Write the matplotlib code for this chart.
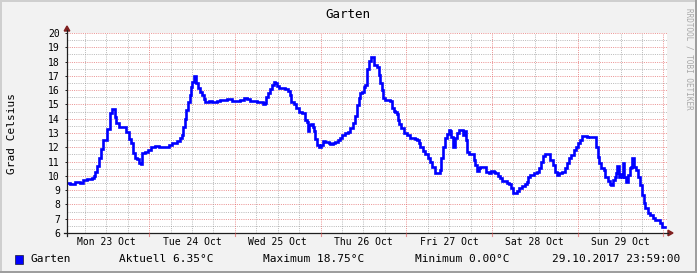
import numpy as np
import matplotlib
matplotlib.use('Agg')
import matplotlib.pyplot as plt
from matplotlib.lines import Line2D
from matplotlib.patches import Rectangle, Polygon

# ---------------- data (hours since window start, Mon 23 Oct 00:59) ----------------
hours = [0.00, 0.92, 2.32, 3.72, 4.40, 5.60, 7.00, 7.48, 7.92, 8.40, 9.04, 9.60, 10.08,
         11.28, 12.12, 12.60, 13.36, 13.80, 14.64, 15.88, 16.52, 17.28, 18.00, 18.40,
         18.96, 19.60, 20.08, 20.64, 21.00, 21.76, 22.68, 23.60, 24.56, 25.68,
         28.48, 29.40, 30.32, 30.80, 31.72, 32.20, 32.48, 32.96, 33.40, 33.88, 34.36,
         34.80, 35.00, 35.48, 36.20, 36.68, 37.32, 37.80, 38.28, 38.72, 39.68, 40.60,
         42.00, 42.92, 44.80, 46.20, 47.60, 48.52, 49.48, 50.40, 51.32, 53.20, 54.80,
         55.36, 55.72, 56.28, 56.92, 57.40, 57.88, 58.32, 58.80, 59.28, 61.12, 61.88,
         62.36, 62.80, 63.48, 64.12, 64.88, 65.80, 66.56, 66.72, 67.20, 67.48, 67.84,
         68.32, 68.80, 69.08, 69.52, 70.00, 70.64, 71.20, 71.68, 72.32, 73.28, 73.72,
         74.40, 75.12, 75.88, 76.52, 77.00, 77.92, 78.68, 79.32, 80.00, 80.56, 81.20,
         81.68, 82.12,
         82.60, 83.08, 83.52, 84.00, 84.48, 85.20, 86.04, 86.80, 87.28, 87.72, 88.20,
         88.48, 89.12, 90.52, 91.00, 91.48, 91.92, 92.40, 92.68, 93.04, 93.60, 94.28,
         95.20, 96.12, 97.36, 98.00, 98.48, 98.92, 99.68, 100.32, 101.00, 101.72,
         102.20, 102.96, 104.36, 104.80, 105.28, 105.92, 106.48, 106.88, 107.32,
         107.60, 108.00, 108.72, 109.20, 109.84, 110.88, 111.16, 111.72, 112.00,
         112.48, 113.88, 114.32, 114.80, 115.28, 115.72, 117.40, 118.08, 118.80,
         119.48, 119.92, 120.68, 121.32, 121.80, 123.20, 123.84, 124.40, 124.88,
         125.36, 126.00, 126.64, 127.40, 128.16, 128.80, 129.08, 129.72, 130.68,
         131.60, 132.24, 132.80, 133.20, 133.92, 134.88, 135.32, 136.00, 136.56,
         137.20, 137.84, 138.60,
         139.36, 140.00, 140.64, 141.20, 141.88, 142.52, 143.08, 143.72, 144.20,
         145.60, 146.00, 146.52, 148.12, 148.68, 148.88, 149.60, 150.28, 150.72,
         151.48, 151.96, 152.40, 152.80, 153.36, 153.80, 154.00, 154.48, 154.92,
         155.40, 155.68, 156.00, 156.52, 157.08, 157.56, 157.92, 158.20, 158.68,
         159.32, 159.88, 160.52, 161.00, 161.48, 161.92, 162.68, 163.32, 164.00,
         164.56, 166.12, 166.60, 167.50]
temps = [9.52, 9.45, 9.57, 9.52, 9.71, 9.78, 9.82, 9.99, 10.29, 10.69, 11.23, 11.86, 12.51,
         13.26, 14.42, 14.66, 14.14, 13.68, 13.44, 13.40, 13.09, 12.56, 12.28, 11.58,
         11.23, 11.16, 10.88, 10.84, 11.58, 11.70, 11.81, 12.00, 12.10, 12.00,
         12.16, 12.32, 12.28, 12.46, 12.63, 12.86, 13.44, 13.96, 14.61, 15.19, 15.66,
         16.24, 16.59, 16.99, 16.48, 16.13, 15.89, 15.66, 15.36, 15.19, 15.24, 15.19,
         15.24, 15.33, 15.35, 15.24, 15.22, 15.33, 15.47, 15.35, 15.22, 15.19, 15.00,
         15.10, 15.50, 15.82, 16.06, 16.36, 16.59, 16.52, 16.29, 16.13, 16.06, 15.96,
         15.66, 15.19, 15.03, 14.73, 14.49, 14.42, 14.38, 13.91, 13.80, 13.16, 13.56,
         13.63, 13.45, 13.16, 12.56, 12.16, 12.04, 12.16, 12.46, 12.40, 12.32, 12.21,
         12.28, 12.40, 12.50, 12.67, 12.86, 12.98, 13.10, 13.33, 13.68, 14.19, 14.96,
         15.43, 15.82,
         15.89, 16.24, 16.33, 17.46, 18.06, 18.34, 17.76, 17.60, 17.06, 16.48, 16.01,
         15.43, 15.31, 15.27, 14.73, 14.57, 14.50, 14.33, 13.91, 13.63, 13.33, 13.02,
         12.86, 12.67, 12.58, 12.51, 12.28, 12.00, 11.76, 11.53, 11.23, 10.99,
         10.60, 10.22, 10.41, 11.23, 12.04, 12.63, 12.93, 13.21, 13.17,
         12.74, 12.04, 12.63, 12.98, 13.21, 12.86, 13.17, 12.51, 11.69,
         11.53, 11.11, 10.76, 10.36, 10.52, 10.60, 10.29, 10.22, 10.36,
         10.29, 10.18, 9.99, 9.82, 9.66, 9.48, 9.43, 9.13, 8.82,
         8.78, 8.96, 9.13, 9.29, 9.43, 9.59, 9.90, 10.06, 10.18,
         10.29, 10.52, 10.99, 11.39, 11.51, 11.53, 11.11, 10.76, 10.29,
         10.06, 10.18, 10.29,
         10.53, 10.92, 11.23, 11.46, 11.81, 12.00, 12.28, 12.51, 12.79,
         12.70, np.nan, 12.70, 12.04, 11.34, 10.88, 10.52, 10.41, 9.94,
         9.66, 9.43, 9.36, 9.71, 9.94, 10.18, 10.69, 9.94, 10.13,
         9.90, 10.92, 9.94, 9.59, 10.06, 10.53, 10.64, 11.23, 10.60,
         10.41, 9.90, 9.36, 8.66, 8.08, 7.73, 7.42, 7.26, 7.03,
         6.92, 6.68, 6.40, 6.40]

day_labels = ["Mon 23 Oct", "Tue 24 Oct", "Wed 25 Oct", "Thu 26 Oct",
              "Fri 27 Oct", "Sat 28 Oct", "Sun 29 Oct"]
y_ticks = list(range(6, 21))
title = "Garten"
ylabel = "Grad Celsius"
series_name = "Garten"
legend_items = ["Aktuell 6.35°C", "Maximum 18.75°C", "Minimum 0.00°C"]
timestamp = "29.10.2017 23:59:00"
watermark = "RRDTOOL / TOBI OETIKER"

# ---------------- figure ----------------
plt.rcParams['font.family'] = ['DejaVu Sans Mono']
W, H = 697, 273
fig = plt.figure(figsize=(W / 100, H / 100), dpi=100)
fig.patch.set_facecolor('#F2F2F2')

def fx(x):
    return x / W

def fy(y):
    return 1 - y / H

L, R, T, B = 67, 667, 33, 233
ax = fig.add_axes([fx(L), fy(B), (R - L) / W, (B - T) / H])
ax.set_facecolor('white')
ax.set_xlim(0, 168)
ax.set_ylim(6, 20)
for s in ax.spines.values():
    s.set_visible(False)

grid_minor = (0.56, 0.56, 0.56, 0.6)
grid_major = (0.87, 0.31, 0.31, 0.6)
dot = (0, (1, 1.2))

# horizontal grid
for v in np.arange(6.5, 20.01, 0.5):
    if abs(v - round(v)) < 1e-6:
        ax.axhline(v, color=grid_major, lw=0.72, ls=dot, zorder=1)
    else:
        ax.axhline(v, color=grid_minor, lw=0.72, ls=dot, zorder=1)
# vertical grid
for h in range(5, 168, 6):
    if (h - 23) % 24 == 0:
        ax.axvline(h, color=grid_major, lw=0.72, ls=dot, zorder=1)
    else:
        ax.axvline(h, color=grid_minor, lw=0.72, ls=dot, zorder=1)

# data
ax.plot(hours, temps, color='#0000FF', lw=1.9, drawstyle='steps-post',
        solid_joinstyle='miter', zorder=3)

# ticks and labels
label_pos = [11 + 24 * k for k in range(7)]
ax.set_xticks(label_pos)
ax.set_xticklabels(day_labels)
ax.set_yticks(y_ticks)
ax.set_yticklabels([str(v) for v in y_ticks])
ax.tick_params(axis='x', length=0, pad=3.2, labelsize=7, colors='#000000')
ax.tick_params(axis='y', length=1.5, width=0.7, pad=3.6, labelsize=7,
               colors='#1F1F1F', labelcolor='#000000')

# axes lines and arrows
axis_col = '#1F1F1F'
arrow_col = '#801F1F'
fig.add_artist(Line2D([fx(L), fx(L)], [fy(236), fy(30)], color=axis_col, lw=0.9))
fig.add_artist(Line2D([fx(64), fx(668)], [fy(B), fy(B)], color=axis_col, lw=0.9))
fig.add_artist(Polygon([(fx(L - 2.8), fy(31)), (fx(L + 2.8), fy(31)), (fx(L), fy(26))],
                       closed=True, color=arrow_col, transform=fig.transFigure))
fig.add_artist(Polygon([(fx(668), fy(B - 2.8)), (fx(668), fy(B + 2.8)), (fx(673), fy(B))],
                       closed=True, color=arrow_col, transform=fig.transFigure))
for h in range(23, 168, 24):
    xp = L + h * (R - L) / 168
    fig.add_artist(Line2D([fx(xp), fx(xp)], [fy(B), fy(B + 3)], color=grid_major, lw=0.8))

# title, labels, watermark
fig.text(fx(348), fy(14), title, ha='center', va='center', fontsize=9, color='#000000')
fig.text(fx(12), fy(133), ylabel, ha='center', va='center', rotation=90, fontsize=8,
         color='#000000')
fig.text(fx(688.5), fy(8), watermark, ha='center', va='top', rotation=270, fontsize=5.5,
         color='#A8A8A8')

# legend
ly = fy(259.5)
fig.add_artist(Rectangle((fx(15), fy(264)), 8 / W, 9 / H, facecolor='#0000FF',
                         edgecolor='#000000', lw=0.4, transform=fig.transFigure))
fig.text(fx(30), ly, series_name, ha='left', va='center', fontsize=8)
for txt, xp in zip(legend_items, [119, 263, 415.5]):
    fig.text(fx(xp), ly, txt, ha='left', va='center', fontsize=8)
fig.text(fx(680), ly, timestamp, ha='right', va='center', fontsize=8)

# 3D frame
fig.add_artist(Rectangle((0, 1 - 2 / H), 1, 2 / H, color='#CFCFCF', transform=fig.transFigure, lw=0))
fig.add_artist(Rectangle((0, 0), 2 / W, 1, color='#CFCFCF', transform=fig.transFigure, lw=0))
fig.add_artist(Rectangle((1 - 2 / W, 0), 2 / W, 1, color='#9E9E9E', transform=fig.transFigure, lw=0))
fig.add_artist(Rectangle((0, 0), 1, 2 / H, color='#9E9E9E', transform=fig.transFigure, lw=0))

fig.savefig('out.png', dpi=100, facecolor=fig.get_facecolor())
